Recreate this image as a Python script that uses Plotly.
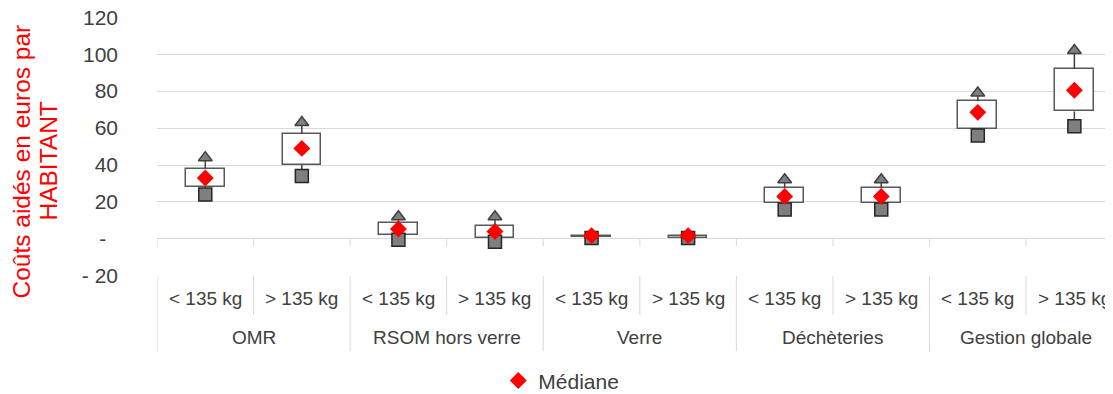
import plotly.graph_objects as go

groups = ["OMR", "RSOM hors verre", "Verre", "Déchèteries", "Gestion globale"]
subcats = ["< 135 kg", "> 135 kg"]

minimum = [24, 34, -0.5, -1.5, 0.5, 0.5, 16, 16, 56, 61]
q1 = [28, 40, 2.2, 0.5, 0.8, 0.6, 19.5, 19.5, 59.5, 69]
median = [33, 49, 5.4, 4, 1.8, 1.8, 23, 23, 68.5, 80.5]
q3 = [38, 57, 8.8, 7, 1.6, 1.5, 27.5, 27.5, 74.5, 92]
maximum = [44, 63, 12, 12, 2, 2, 32, 32, 79, 102]

y_ticks = [-20, 0, 20, 40, 60, 80, 100, 120]
y_ticktext = ["- 20", "-\u00a0\u00a0", "20", "40", "60", "80", "100", "120"]
title_lines = ["Coûts aidés en euros par", "HABITANT"]

n = len(groups) * len(subcats)
xs = list(range(n))
FONT = "Liberation Sans, Arial, sans-serif"
GRID = "#d9d9d9"
DARK = "#404040"

fig = go.Figure()

# boxes (Q1 -> Q3)
fig.add_trace(go.Bar(
    x=xs, y=[b - a for a, b in zip(q1, q3)], base=q1, width=0.4,
    marker=dict(color="white", line=dict(color="#595959", width=1.5)),
    showlegend=False, hoverinfo="skip"))

# whiskers
wx, wy = [], []
for i in xs:
    wx += [i, i, None, i, i, None]
    wy += [q3[i], maximum[i], None, q1[i], minimum[i], None]
fig.add_trace(go.Scatter(x=wx, y=wy, mode="lines",
                         line=dict(color=DARK, width=1.5),
                         showlegend=False, hoverinfo="skip"))

fig.add_trace(go.Scatter(x=xs, y=minimum, mode="markers",
                         marker=dict(symbol="square", size=13, color="#7f7f7f",
                                     line=dict(color="#262626", width=1.5)),
                         showlegend=False, name="Minimum"))
fig.add_trace(go.Scatter(x=xs, y=maximum, mode="markers",
                         marker=dict(symbol="triangle-up", size=12, color="#7f7f7f",
                                     line=dict(color="#404040", width=1.5)),
                         showlegend=False, name="Maximum"))
fig.add_trace(go.Scatter(x=xs, y=median, mode="markers",
                         marker=dict(symbol="diamond", size=13, color="#ff0000",
                                     line=dict(width=0)),
                         name="Médiane", showlegend=True))

shapes = []
annotations = []
# category table
for k in range(n + 1):
    xb = k - 0.5
    full = (k % 2 == 0)
    shapes.append(dict(type="line", xref="x", yref="paper", x0=xb, x1=xb,
                       y0=0, y1=-0.29 if full else -0.15,
                       line=dict(color=GRID, width=1)))
    shapes.append(dict(type="line", xref="x", yref="y", x0=xb, x1=xb,
                       y0=0, y1=-4, line=dict(color=GRID, width=1)))
for i in xs:
    annotations.append(dict(x=i, y=-0.088, xref="x", yref="paper",
                            text=subcats[i % 2], showarrow=False,
                            font=dict(family=FONT, size=19, color=DARK),
                            xanchor="center", yanchor="middle"))
for g, name in enumerate(groups):
    annotations.append(dict(x=2 * g + 0.5, y=-0.236, xref="x", yref="paper",
                            text=name, showarrow=False,
                            font=dict(family=FONT, size=19, color=DARK),
                            xanchor="center", yanchor="middle"))
# y-axis title, two tightly spaced lines
for j, (line, px) in enumerate(zip(title_lines, [22, 49])):
    annotations.append(dict(x=(px - 8 - 149) / 956, y=0.442, xref="paper", yref="paper",
                            text=line, textangle=-90, showarrow=False, borderpad=0,
                            font=dict(family=FONT, size=24.5, color="#ff0000"),
                            xanchor="center", yanchor="middle"))

# page body has an 8px margin, so the figure is sized/offset to compensate
fig.update_layout(
    width=1105, height=386,
    margin=dict(l=149, r=0, t=9, b=118, autoexpand=False),
    plot_bgcolor="white", paper_bgcolor="white",
    font=dict(family=FONT, color=DARK),
    shapes=shapes, annotations=annotations,
    bargap=0,
    legend=dict(orientation="h", x=0.357, y=-0.405, xanchor="left", yanchor="middle",
                font=dict(family=FONT, size=21, color=DARK), itemwidth=30),
    xaxis=dict(range=[-0.5, 9.4], showticklabels=False, showgrid=False,
               zeroline=False, showline=False, ticks=""),
    yaxis=dict(range=[-20.05, 120.1], tickvals=y_ticks, ticktext=y_ticktext,
               showgrid=True, gridcolor=GRID, gridwidth=1,
               zeroline=True, zerolinecolor=GRID, zerolinewidth=1,
               tickfont=dict(family=FONT, size=21, color=DARK),
               ticklabeloverflow="allow",
               ticks="", ticklabelstandoff=38, showline=False),
)

fig.write_html("out.html")
